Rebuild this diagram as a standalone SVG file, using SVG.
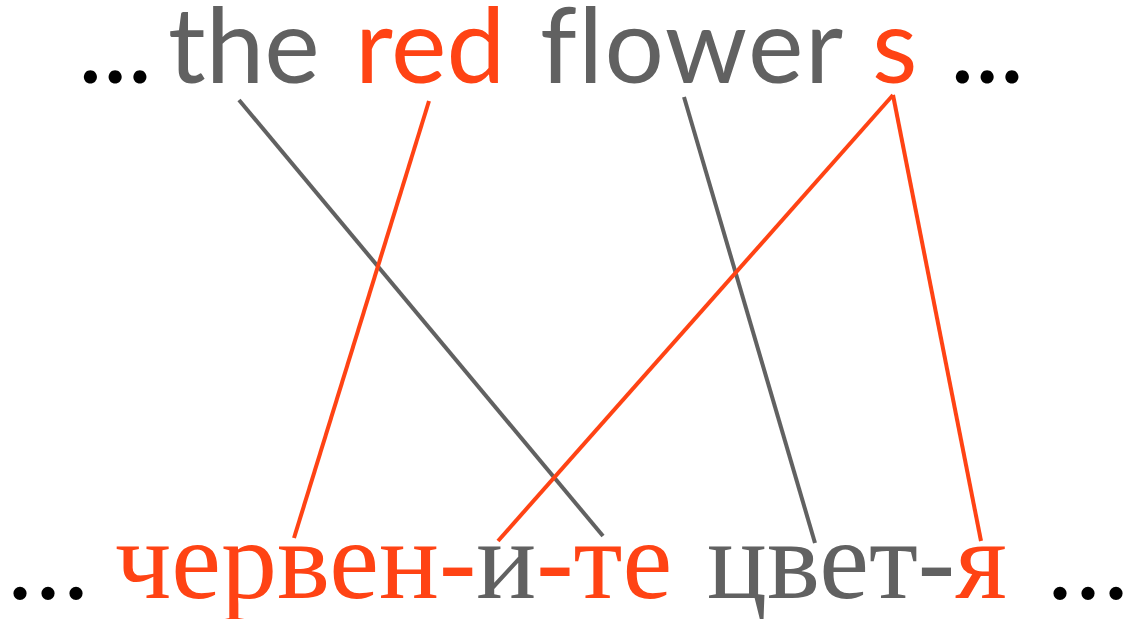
<svg xmlns="http://www.w3.org/2000/svg" width="1130" height="619" viewBox="0 0 1130 619">
<style>
.top{font-family:Lato,"Open Sans","DejaVu Sans",sans-serif;font-size:105px;font-variant-ligatures:none}
.bot{font-family:"Liberation Serif","DejaVu Serif",serif;font-size:112px}
.r{fill:#FF4314}
.g{fill:#616161}
.k{fill:#000}
.lr{stroke:#FF4314;stroke-width:4;fill:none}
.lg{stroke:#616161;stroke-width:4;fill:none}
</style>
<rect width="1130" height="619" fill="#fff"/>
<g id="connectors">
<line class="lg" x1="239" y1="100" x2="603" y2="536"/>
<line class="lr" x1="429" y1="101" x2="294" y2="538"/>
<line class="lg" x1="684" y1="97" x2="815" y2="543"/>
<line class="lr" x1="893" y1="95" x2="498" y2="541"/>
<line class="lr" x1="893" y1="95" x2="981" y2="541"/>
</g>
<g id="top-words">
<g id="top-dots1"><text class="top k" x="78" y="83">...</text></g>
<g id="w-the"><text class="top g" x="168" y="83">the</text></g>
<g id="w-red"><text class="top r" x="355" y="83">red</text></g>
<g id="w-flower"><text class="top g" x="540" y="83" letter-spacing="1.5">flower</text></g>
<g id="w-s"><text class="top r" x="872" y="83">s</text></g>
<g id="top-dots2"><text class="top k" x="950" y="83">...</text></g>
</g>
<g id="bottom-words">
<g id="bot-dots1"><text class="bot k" x="6" y="598">...</text></g>
<g id="w-cherven"><text class="bot" x="115" y="598"><tspan class="r">червен-</tspan><tspan class="g">и</tspan><tspan class="r">-те</tspan></text></g>
<g id="w-tsvet"><text class="bot" x="707" y="598"><tspan class="g">цвет-</tspan><tspan class="r">я</tspan></text></g>
<g id="bot-dots2"><text class="bot k" x="1046" y="598">...</text></g>
</g>
</svg>
